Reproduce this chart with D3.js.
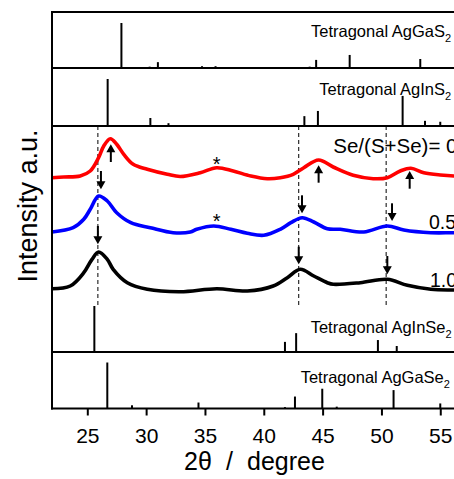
<!DOCTYPE html>
<html><head><meta charset="utf-8">
<script src="https://cdn.jsdelivr.net/npm/d3@7"></script>
<style>
html,body{margin:0;padding:0;background:#fff;}
svg{display:block;font-family:"Liberation Sans",Arial,sans-serif;}
</style></head>
<body><svg id="c" width="454" height="479"></svg>
<script>
// ---------- data ----------
const xTicks = [25, 30, 35, 40, 45, 50, 55];

// measured XRD patterns: 2theta (deg) and intensity (a.u., offset included)
const redDeg   = [22.0,23.0,24.4,25.25,25.96,26.4,26.96,27.5,28.1,28.9,30.1,31.8,32.9,34.6,36.0,37.4,38.9,40.3,41.4,42.5,43.4,44.66,45.9,47.6,49.3,50.5,51.6,52.5,53.6,55.0,56.2,60.0];
const redInt   = [174.3,175,176,181,194.3,206,213.3,207.7,197.7,187.7,182.7,177.7,175.5,179.3,184.3,181,176,173.3,174.3,177.7,184.3,192,185,176.7,173.3,174.3,181,183.7,179.3,177,176,176];
const blueDeg  = [22.0,23.8,24.7,25.25,25.96,26.7,27.5,28.7,30.36,32.3,33.76,34.3,35.75,37.2,38.6,40.0,41.4,42.3,43.26,44.25,45.4,46.5,48.5,50.5,51.9,54.2,56.2,60.0];
const blueInt  = [120,124.3,132.7,142.7,156,151,139.3,129.3,124.3,119.3,120,122.7,126,122.7,118.7,116.7,122.7,129.3,134.3,130,123.3,122.7,120,126,122,119.3,119.3,119.3];
const blackDeg = [22.0,23.55,24.7,25.4,25.96,26.7,27.2,28.4,30.1,32.9,36.0,38.6,40.8,42.0,43.1,44.25,45.4,45.9,48.2,50.5,52.2,54.2,56.2,60.0];
const blackInt = [63.3,66,79.3,92.7,100,92.7,82.7,69.3,62.7,60.3,63.3,61,66,74.3,82.7,76,69.3,67.7,69.3,72.7,66.7,62.7,62,62];

// reference stick patterns: 2theta and relative intensity
const agGaS2Deg  = [27.9,30.3,31.0,34.75,35.9,43.9,44.45,47.3,47.7,53.3];
const agGaS2Int  = [100,3,13,4,4,3,18,29,2,20];
const agInS2Deg  = [26.73,30.36,31.9,43.45,44.6,51.8,53.7,55.0];
const agInS2Int  = [100,17,6,21,32,64,11,9];
const agInSe2Deg = [25.6,41.8,42.75,49.7,51.3];
const agInSe2Int = [100,22,41,26,13];
const agGaSe2Deg = [26.7,28.8,34.45,41.8,42.65,44.97,46.2,51.03,55.0];
const agGaSe2Int = [100,7,13,3,26,43,4,40,11];

// guide lines and markers
const dashDeg   = [25.9, 42.97, 50.4];
const arrowDeg  = [27.0, 44.66, 52.4, 26.16, 43.25, 50.9, 25.9, 42.97, 50.5];
const arrowTail = [190, 169.3, 163.3, 181, 156.7, 148.7, 126, 105.3, 96];
const arrowTip  = [207.7, 186.7, 181, 162.7, 138.7, 131, 107.7, 87.7, 77.7];
const starDeg   = [36.0, 36.0];
const starInt   = [192.7, 136];

const seriesLabels = ["Se/(S+Se)= 0", "0.5", "1.0"];

// ---------- drawing ----------
const svg = d3.select("#c");
const x = d3.scaleLinear().domain([22, 60]).range([52, 499.1]);
const yMain = d3.scaleLinear().domain([0, 226]).range([352, 126]);
const ink = "#000";

// stick panels
function sticks(degs, ints, base, hmax) {
  const y = d3.scaleLinear().domain([0, 100]).range([base, base - hmax]);
  svg.append("g").selectAll("line").data(degs).join("line")
    .attr("x1", d => x(d)).attr("x2", d => x(d))
    .attr("y1", y(0)).attr("y2", (d, i) => y(ints[i]))
    .attr("stroke", ink).attr("stroke-width", 2);
}
sticks(agGaS2Deg, agGaS2Int, 68, 45);
sticks(agInS2Deg, agInS2Int, 126, 47);
sticks(agInSe2Deg, agInSe2Int, 352, 46);
sticks(agGaSe2Deg, agGaSe2Int, 408.5, 46);

// dashed guides
svg.append("g").selectAll("line").data(dashDeg).join("line")
  .attr("x1", d => x(d)).attr("x2", d => x(d))
  .attr("y1", yMain(226)).attr("y2", yMain(45))
  .attr("stroke", ink).attr("stroke-width", 1).attr("stroke-dasharray", "4,3");

// curves
const line = d3.line().x(d => x(d[0])).y(d => yMain(d[1])).curve(d3.curveCatmullRom.alpha(0.5));
[[redDeg, redInt, "#ff0000"], [blueDeg, blueInt, "#0000ff"], [blackDeg, blackInt, "#000000"]]
  .forEach(([dg, it, col]) => {
    svg.append("path").datum(dg.map((d, i) => [d, it[i]]))
      .attr("d", line).attr("fill", "none").attr("stroke", col)
      .attr("stroke-width", 3.6).attr("stroke-linejoin", "round");
  });

// arrows
const ag = svg.append("g");
arrowDeg.forEach((d, i) => {
  const xx = x(d), yt = yMain(arrowTail[i]), yp = yMain(arrowTip[i]);
  const dir = yp > yt ? 1 : -1;
  const hl = 8, hw = 4.5;
  ag.append("line").attr("x1", xx).attr("x2", xx).attr("y1", yt).attr("y2", yp - dir * hl + dir)
    .attr("stroke", ink).attr("stroke-width", 2);
  ag.append("path").attr("d", `M${xx},${yp} L${xx - hw},${yp - dir * hl} L${xx + hw},${yp - dir * hl} Z`)
    .attr("fill", ink);
});

// asterisks
svg.append("g").selectAll("text").data(starDeg).join("text")
  .attr("x", d => x(d)).attr("y", (d, i) => yMain(starInt[i]) + 11.5)
  .attr("text-anchor", "middle").attr("font-size", 20).attr("fill", ink).text("*");

// frame and separators
const fr = svg.append("g").attr("stroke", ink).attr("stroke-width", 2);
[12, 68, 126, 352].forEach(yy => fr.append("line").attr("x1", 51).attr("x2", 500).attr("y1", yy).attr("y2", yy));
fr.append("line").attr("x1", 52).attr("x2", 52).attr("y1", 11).attr("y2", 409.5);

// x axis
const ax = svg.append("g").attr("transform", "translate(0,408.5)")
  .call(d3.axisBottom(x).tickValues(xTicks).tickSize(7).tickSizeOuter(0));
ax.select(".domain").attr("stroke", ink).attr("stroke-width", 2).attr("d", "M51,0H500");
ax.selectAll(".tick line").attr("stroke", ink).attr("stroke-width", 2);
ax.selectAll(".tick text").attr("y", 34).attr("dy", 0).attr("font-size", 21)
  .attr("font-family", "Liberation Sans, Arial, sans-serif").attr("fill", ink);

// axis titles
const xt = svg.append("text").attr("x", 184).attr("y", 470).attr("font-size", 25).attr("fill", ink);
xt.append("tspan").text("2θ");
xt.append("tspan").attr("x", 226).text("/");
xt.append("tspan").attr("x", 247).text("degree");
svg.append("text").attr("transform", "translate(37,206) rotate(-90)").attr("text-anchor", "middle")
  .attr("font-size", 27).attr("fill", ink).text("Intensity a.u.");

// panel labels
function label(xp, yp, main, sub) {
  const t = svg.append("text").attr("x", xp).attr("y", yp).attr("font-size", 16.5).attr("fill", ink);
  t.append("tspan").text(main);
  t.append("tspan").attr("font-size", 11).attr("dy", 5).text(sub);
}
label(311, 36.7, "Tetragonal AgGaS", "2");
label(319.3, 95, "Tetragonal AgInS", "2");
label(310.7, 332.7, "Tetragonal AgInSe", "2");
label(300.7, 383.3, "Tetragonal AgGaSe", "2");

// series labels
const sl = [[333.3, 153, 20.5], [429, 229, 19.5], [430, 287, 19.5]];
seriesLabels.forEach((s, i) => {
  svg.append("text").attr("x", sl[i][0]).attr("y", sl[i][1]).attr("font-size", sl[i][2])
    .attr("fill", ink).text(s);
});
</script></body></html>
